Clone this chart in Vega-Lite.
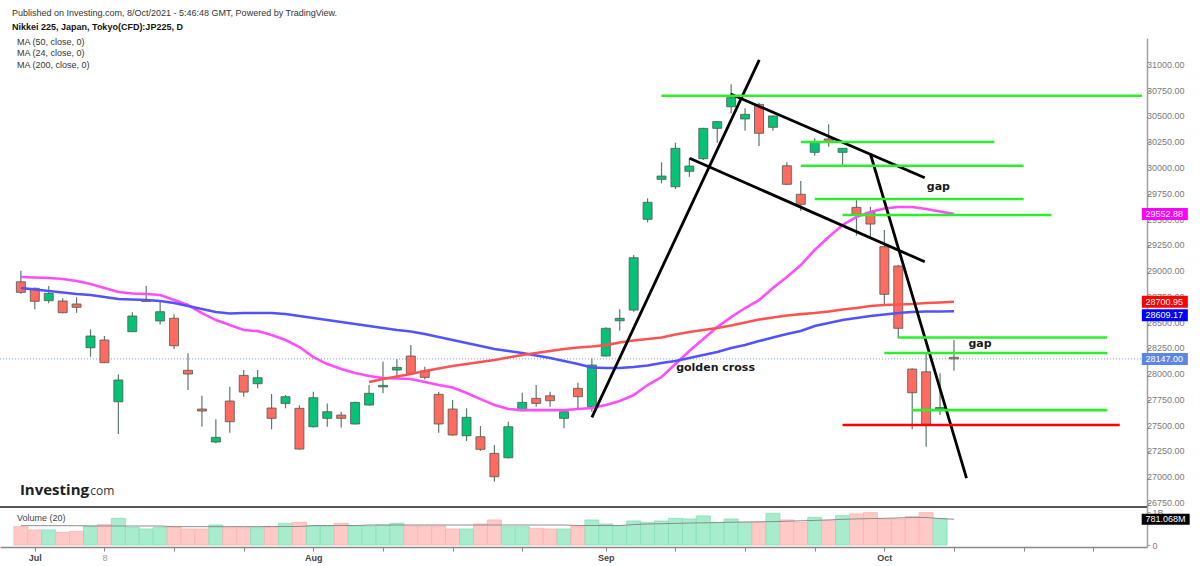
{
  "$schema": "https://vega.github.io/schema/vega-lite/v6.json",
  "width": 1147,
  "height": 509,
  "autosize": {"type": "none"},
  "padding": {"left": 0, "top": 38, "right": 53, "bottom": 19},
  "background": "#ffffff",
  "title": {
    "text": "Published on Investing.com, 8/Oct/2021 - 5:46:48 GMT, Powered by TradingView.",
    "subtitle": "Nikkei 225, Japan, Tokyo(CFD):JP225, D",
    "anchor": "start",
    "frame": "group",
    "dx": 12,
    "offset": 6,
    "font": "Liberation Sans",
    "fontSize": 9,
    "fontWeight": "normal",
    "color": "#333333",
    "subtitleFont": "Liberation Sans",
    "subtitleFontSize": 9,
    "subtitleFontWeight": "bold",
    "subtitleColor": "#111111",
    "subtitlePadding": 5
  },
  "datasets": {
    "candles": [
      {"i": 0, "o": 28896, "h": 29003, "l": 28780, "c": 28793, "vol": 555000000, "vma": 585000000, "ma24": 28942, "ma50": 28835, "ma200": null},
      {"i": 1, "o": 28832, "h": 28840, "l": 28628, "c": 28706, "vol": 455000000, "vma": 585000000, "ma24": 28937, "ma50": 28820, "ma200": null},
      {"i": 2, "o": 28712, "h": 28854, "l": 28686, "c": 28783, "vol": 455000000, "vma": 585000000, "ma24": 28932, "ma50": 28806, "ma200": null},
      {"i": 3, "o": 28709, "h": 28735, "l": 28589, "c": 28595, "vol": 384000000, "vma": 585000000, "ma24": 28922, "ma50": 28791, "ma200": null},
      {"i": 4, "o": 28680, "h": 28745, "l": 28595, "c": 28648, "vol": 414000000, "vma": 585000000, "ma24": 28903, "ma50": 28777, "ma200": null},
      {"i": 5, "o": 28255, "h": 28434, "l": 28168, "c": 28369, "vol": 576000000, "vma": 576000000, "ma24": 28874, "ma50": 28767, "ma200": null},
      {"i": 6, "o": 28330, "h": 28369, "l": 28110, "c": 28110, "vol": 616000000, "vma": 576000000, "ma24": 28835, "ma50": 28748, "ma200": null},
      {"i": 7, "o": 27731, "h": 27997, "l": 27417, "c": 27942, "vol": 808000000, "vma": 576000000, "ma24": 28796, "ma50": 28728, "ma200": null},
      {"i": 8, "o": 28411, "h": 28599, "l": 28411, "c": 28563, "vol": 535000000, "vma": 576000000, "ma24": 28782, "ma50": 28723, "ma200": null},
      {"i": 9, "o": 28705, "h": 28854, "l": 28702, "c": 28715, "vol": 485000000, "vma": 576000000, "ma24": 28777, "ma50": 28718, "ma200": null},
      {"i": 10, "o": 28515, "h": 28702, "l": 28482, "c": 28605, "vol": 535000000, "vma": 576000000, "ma24": 28767, "ma50": 28709, "ma200": null},
      {"i": 11, "o": 28541, "h": 28580, "l": 28243, "c": 28275, "vol": 535000000, "vma": 555000000, "ma24": 28718, "ma50": 28689, "ma200": null},
      {"i": 12, "o": 28036, "h": 28201, "l": 27845, "c": 28000, "vol": 485000000, "vma": 555000000, "ma24": 28670, "ma50": 28660, "ma200": null},
      {"i": 13, "o": 27660, "h": 27789, "l": 27488, "c": 27641, "vol": 485000000, "vma": 555000000, "ma24": 28592, "ma50": 28631, "ma200": null},
      {"i": 14, "o": 27340, "h": 27560, "l": 27327, "c": 27385, "vol": 606000000, "vma": 555000000, "ma24": 28524, "ma50": 28602, "ma200": null},
      {"i": 15, "o": 27738, "h": 27877, "l": 27430, "c": 27537, "vol": 525000000, "vma": 555000000, "ma24": 28476, "ma50": 28587, "ma200": null},
      {"i": 16, "o": 27987, "h": 28039, "l": 27780, "c": 27825, "vol": 525000000, "vma": 555000000, "ma24": 28427, "ma50": 28592, "ma200": null},
      {"i": 17, "o": 27906, "h": 28039, "l": 27861, "c": 27964, "vol": 525000000, "vma": 555000000, "ma24": 28417, "ma50": 28592, "ma200": null},
      {"i": 18, "o": 27670, "h": 27806, "l": 27463, "c": 27570, "vol": 535000000, "vma": 560000000, "ma24": 28379, "ma50": 28592, "ma200": null},
      {"i": 19, "o": 27715, "h": 27796, "l": 27667, "c": 27780, "vol": 657000000, "vma": 560000000, "ma24": 28330, "ma50": 28583, "ma200": null},
      {"i": 20, "o": 27667, "h": 27696, "l": 27265, "c": 27272, "vol": 687000000, "vma": 560000000, "ma24": 28262, "ma50": 28563, "ma200": null},
      {"i": 21, "o": 27488, "h": 27828, "l": 27480, "c": 27770, "vol": 576000000, "vma": 590000000, "ma24": 28165, "ma50": 28544, "ma200": null},
      {"i": 22, "o": 27570, "h": 27715, "l": 27488, "c": 27634, "vol": 576000000, "vma": 590000000, "ma24": 28097, "ma50": 28524, "ma200": null},
      {"i": 23, "o": 27602, "h": 27634, "l": 27482, "c": 27570, "vol": 657000000, "vma": 590000000, "ma24": 28049, "ma50": 28505, "ma200": null},
      {"i": 24, "o": 27515, "h": 27730, "l": 27510, "c": 27725, "vol": 576000000, "vma": 590000000, "ma24": 28010, "ma50": 28485, "ma200": null},
      {"i": 25, "o": 27699, "h": 27893, "l": 27695, "c": 27813, "vol": 576000000, "vma": 606000000, "ma24": 27981, "ma50": 28466, "ma200": 27922},
      {"i": 26, "o": 27875, "h": 28119, "l": 27813, "c": 27890, "vol": 606000000, "vma": 606000000, "ma24": 27961, "ma50": 28447, "ma200": 27951},
      {"i": 27, "o": 28039, "h": 28143, "l": 27958, "c": 28065, "vol": 657000000, "vma": 606000000, "ma24": 27956, "ma50": 28427, "ma200": 27976},
      {"i": 28, "o": 28175, "h": 28282, "l": 28000, "c": 28007, "vol": 576000000, "vma": 606000000, "ma24": 27952, "ma50": 28413, "ma200": 28000},
      {"i": 29, "o": 28029, "h": 28071, "l": 27948, "c": 27968, "vol": 576000000, "vma": 606000000, "ma24": 27922, "ma50": 28388, "ma200": 28029},
      {"i": 30, "o": 27803, "h": 27828, "l": 27430, "c": 27515, "vol": 576000000, "vma": 606000000, "ma24": 27893, "ma50": 28359, "ma200": 28053},
      {"i": 31, "o": 27660, "h": 27748, "l": 27400, "c": 27408, "vol": 485000000, "vma": 606000000, "ma24": 27869, "ma50": 28330, "ma200": 28078},
      {"i": 32, "o": 27401, "h": 27667, "l": 27350, "c": 27580, "vol": 485000000, "vma": 606000000, "ma24": 27816, "ma50": 28301, "ma200": 28097},
      {"i": 33, "o": 27391, "h": 27495, "l": 27255, "c": 27269, "vol": 636000000, "vma": 606000000, "ma24": 27757, "ma50": 28272, "ma200": 28116},
      {"i": 34, "o": 27230, "h": 27311, "l": 26954, "c": 27003, "vol": 758000000, "vma": 606000000, "ma24": 27699, "ma50": 28243, "ma200": 28136},
      {"i": 35, "o": 27187, "h": 27537, "l": 27180, "c": 27488, "vol": 555000000, "vma": 606000000, "ma24": 27660, "ma50": 28223, "ma200": 28160},
      {"i": 36, "o": 27644, "h": 27818, "l": 27640, "c": 27725, "vol": 555000000, "vma": 606000000, "ma24": 27650, "ma50": 28204, "ma200": 28184},
      {"i": 37, "o": 27764, "h": 27893, "l": 27683, "c": 27715, "vol": 505000000, "vma": 606000000, "ma24": 27650, "ma50": 28180, "ma200": 28204},
      {"i": 38, "o": 27789, "h": 27828, "l": 27683, "c": 27741, "vol": 485000000, "vma": 606000000, "ma24": 27650, "ma50": 28155, "ma200": 28223},
      {"i": 39, "o": 27570, "h": 27657, "l": 27473, "c": 27634, "vol": 485000000, "vma": 606000000, "ma24": 27650, "ma50": 28126, "ma200": 28243},
      {"i": 40, "o": 27861, "h": 27915, "l": 27650, "c": 27780, "vol": 576000000, "vma": 590000000, "ma24": 27660, "ma50": 28097, "ma200": 28257},
      {"i": 41, "o": 27683, "h": 28152, "l": 27634, "c": 28087, "vol": 758000000, "vma": 590000000, "ma24": 27670, "ma50": 28063, "ma200": 28267},
      {"i": 42, "o": 28175, "h": 28453, "l": 28170, "c": 28444, "vol": 636000000, "vma": 590000000, "ma24": 27699, "ma50": 28058, "ma200": 28281},
      {"i": 43, "o": 28517, "h": 28628, "l": 28420, "c": 28541, "vol": 586000000, "vma": 590000000, "ma24": 27738, "ma50": 28058, "ma200": 28306},
      {"i": 44, "o": 28621, "h": 29155, "l": 28605, "c": 29129, "vol": 727000000, "vma": 620000000, "ma24": 27796, "ma50": 28068, "ma200": 28325},
      {"i": 45, "o": 29502, "h": 29706, "l": 29473, "c": 29667, "vol": 687000000, "vma": 636000000, "ma24": 27893, "ma50": 28083, "ma200": 28340},
      {"i": 46, "o": 29890, "h": 30055, "l": 29851, "c": 29922, "vol": 727000000, "vma": 645000000, "ma24": 27971, "ma50": 28107, "ma200": 28354},
      {"i": 47, "o": 29818, "h": 30246, "l": 29796, "c": 30191, "vol": 808000000, "vma": 655000000, "ma24": 28097, "ma50": 28126, "ma200": 28383},
      {"i": 48, "o": 29968, "h": 30100, "l": 29916, "c": 30019, "vol": 788000000, "vma": 665000000, "ma24": 28223, "ma50": 28155, "ma200": 28408},
      {"i": 49, "o": 30090, "h": 30390, "l": 30078, "c": 30385, "vol": 879000000, "vma": 672000000, "ma24": 28340, "ma50": 28184, "ma200": 28427},
      {"i": 50, "o": 30385, "h": 30455, "l": 30246, "c": 30450, "vol": 687000000, "vma": 680000000, "ma24": 28456, "ma50": 28214, "ma200": 28447},
      {"i": 51, "o": 30595, "h": 30813, "l": 30531, "c": 30683, "vol": 788000000, "vma": 690000000, "ma24": 28553, "ma50": 28253, "ma200": 28471},
      {"i": 52, "o": 30476, "h": 30580, "l": 30362, "c": 30521, "vol": 687000000, "vma": 697000000, "ma24": 28641, "ma50": 28282, "ma200": 28500},
      {"i": 53, "o": 30618, "h": 30634, "l": 30214, "c": 30337, "vol": 687000000, "vma": 702000000, "ma24": 28718, "ma50": 28320, "ma200": 28529},
      {"i": 54, "o": 30395, "h": 30510, "l": 30362, "c": 30505, "vol": 960000000, "vma": 707000000, "ma24": 28835, "ma50": 28354, "ma200": 28548},
      {"i": 55, "o": 30022, "h": 30055, "l": 29835, "c": 29842, "vol": 758000000, "vma": 720000000, "ma24": 28942, "ma50": 28388, "ma200": 28568},
      {"i": 56, "o": 29745, "h": 29874, "l": 29583, "c": 29648, "vol": 687000000, "vma": 733000000, "ma24": 29058, "ma50": 28417, "ma200": 28582},
      {"i": 57, "o": 30152, "h": 30288, "l": 30119, "c": 30255, "vol": 838000000, "vma": 745000000, "ma24": 29204, "ma50": 28466, "ma200": 28592},
      {"i": 58, "o": 30282, "h": 30424, "l": 30207, "c": 30250, "vol": 737000000, "vma": 760000000, "ma24": 29330, "ma50": 28495, "ma200": 28607},
      {"i": 59, "o": 30152, "h": 30195, "l": 30013, "c": 30191, "vol": 889000000, "vma": 778000000, "ma24": 29447, "ma50": 28524, "ma200": 28626},
      {"i": 60, "o": 29618, "h": 29689, "l": 29343, "c": 29550, "vol": 940000000, "vma": 790000000, "ma24": 29524, "ma50": 28544, "ma200": 28641},
      {"i": 61, "o": 29570, "h": 29624, "l": 29333, "c": 29456, "vol": 980000000, "vma": 800000000, "ma24": 29573, "ma50": 28563, "ma200": 28660},
      {"i": 62, "o": 29236, "h": 29398, "l": 28680, "c": 28774, "vol": 788000000, "vma": 810000000, "ma24": 29607, "ma50": 28578, "ma200": 28670},
      {"i": 63, "o": 29049, "h": 29055, "l": 28347, "c": 28444, "vol": 788000000, "vma": 820000000, "ma24": 29621, "ma50": 28592, "ma200": 28675},
      {"i": 64, "o": 28048, "h": 28055, "l": 27463, "c": 27818, "vol": 859000000, "vma": 835000000, "ma24": 29621, "ma50": 28602, "ma200": 28680},
      {"i": 65, "o": 28022, "h": 28211, "l": 27294, "c": 27512, "vol": 980000000, "vma": 835000000, "ma24": 29602, "ma50": 28607, "ma200": 28689},
      {"i": 66, "o": 27660, "h": 28007, "l": 27602, "c": 27675, "vol": 808000000, "vma": 800000000, "ma24": 29578, "ma50": 28607, "ma200": 28694},
      {"i": 67, "o": 28162, "h": 28330, "l": 28032, "c": 28147, "vol": null, "vma": 781068000, "ma24": 29553, "ma50": 28609, "ma200": 28701}
    ],
    "trend": [
      {"x1": 41.0, "p1": 27580, "x2": 53.02, "p2": 31049},
      {"x1": 50.96, "p1": 30718, "x2": 64.9, "p2": 29906},
      {"x1": 48.02, "p1": 30094, "x2": 64.9, "p2": 29090},
      {"x1": 61.0, "p1": 30136, "x2": 67.9, "p2": 26990}
    ],
    "levels": [
      {"from": 46.0, "to": 80.5, "price": 30702, "kind": "level"},
      {"from": 56.0, "to": 69.9, "price": 30252, "kind": "level"},
      {"from": 56.0, "to": 72.0, "price": 30022, "kind": "level"},
      {"from": 57.0, "to": 72.0, "price": 29699, "kind": "level"},
      {"from": 59.0, "to": 74.0, "price": 29544, "kind": "level"},
      {"from": 63.0, "to": 78.0, "price": 28354, "kind": "level"},
      {"from": 62.0, "to": 78.0, "price": 28204, "kind": "level"},
      {"from": 64.0, "to": 78.0, "price": 27650, "kind": "level"},
      {"from": 59.0, "to": 78.9, "price": 27505, "kind": "floor"}
    ],
    "notes": [
      {"text": "gap", "i": 65.05, "price": 29818},
      {"text": "gap", "i": 68.04, "price": 28288},
      {"text": "golden cross", "i": 47.05, "price": 28056}
    ],
    "ticks": [
      {"value": 26750}, {"value": 27000}, {"value": 27250}, {"value": 27500}, {"value": 27750}, {"value": 28000},
      {"value": 28250}, {"value": 28500}, {"value": 28750}, {"value": 29000}, {"value": 29250}, {"value": 29500},
      {"value": 29750}, {"value": 30000}, {"value": 30250}, {"value": 30500}, {"value": 30750}, {"value": 31000}
    ],
    "tags": [
      {"name": "ma24", "value": 29552.88},
      {"name": "ma200", "value": 28700.95},
      {"name": "ma50", "value": 28609.17},
      {"name": "last", "value": 28147.00}
    ]
  },
  "layer": [
    {
      "layer": [
        {
          "data": {"name": "candles"},
          "transform": [{"filter": "datum.i == 67"}],
          "mark": {"type": "rule", "color": "#7d9bf0", "strokeWidth": 1, "strokeDash": [1, 2]},
          "encoding": {
            "y": {"field": "c", "type": "quantitative", "title": null, "scale": {"domain": [26321, 31262], "nice": false, "zero": false}}
          }
        },
        {
          "data": {"name": "candles"},
          "mark": {"type": "rule", "color": "#5d7a69", "strokeWidth": 1.2},
          "encoding": {
            "x": {
              "field": "i", "type": "quantitative", "title": null,
              "scale": {"domain": [-1.14, 80.5], "nice": false, "zero": false},
              "axis": {
                "values": [1, 6, 11, 16, 21, 26, 31, 36, 42, 47, 52, 57, 62, 67, 72, 77],
                "labelExpr": "datum.value == 1 ? 'Jul' : datum.value == 6 ? '8' : datum.value == 21 ? 'Aug' : datum.value == 42 ? 'Sep' : datum.value == 62 ? 'Oct' : ''",
                "grid": false,
                "domainColor": "#888888",
                "domainWidth": 1.5,
                "tickColor": "#888888",
                "tickSize": 4,
                "labelFont": "Liberation Sans",
                "labelFontSize": 9,
                "labelPadding": 2,
                "labelOverlap": false,
                "labelFlush": false,
                "labelFontWeight": {"condition": {"test": "datum.value == 6", "value": "normal"}, "value": "bold"},
                "labelColor": {"condition": {"test": "datum.value == 6", "value": "#999999"}, "value": "#444444"}
              }
            },
            "y": {
              "field": "l", "type": "quantitative", "title": null,
              "scale": {"domain": [26321, 31262], "nice": false, "zero": false},
              "axis": {
                "orient": "right",
                "values": [26750, 27000, 27250, 27500, 27750, 28000, 28250, 28500, 28750, 29000, 29250, 29500, 29750, 30000, 30250, 30500, 30750, 31000],
                "labels": false,
                "grid": false,
                "domainColor": "#a0a0a0",
                "domainWidth": 1.5,
                "tickColor": "#a0a0a0",
                "tickSize": 3
              }
            },
            "y2": {"field": "h"}
          }
        },
        {
          "data": {"name": "candles"},
          "mark": {"type": "bar", "width": 9, "stroke": "#4a5a50", "strokeWidth": 0.8},
          "encoding": {
            "x": {"field": "i", "type": "quantitative", "title": null},
            "y": {"field": "o", "type": "quantitative", "title": null},
            "y2": {"field": "c"},
            "fill": {"condition": {"test": "datum.c >= datum.o", "value": "#05c276"}, "value": "#ff6b61"}
          }
        },
        {
          "data": {"name": "candles"},
          "mark": {"type": "line", "color": "#ff4dff", "strokeWidth": 2.6},
          "encoding": {
            "x": {"field": "i", "type": "quantitative", "title": null},
            "y": {"field": "ma24", "type": "quantitative", "title": null}
          }
        },
        {
          "data": {"name": "candles"},
          "mark": {"type": "line", "color": "#5252ff", "strokeWidth": 2.6},
          "encoding": {
            "x": {"field": "i", "type": "quantitative", "title": null},
            "y": {"field": "ma50", "type": "quantitative", "title": null}
          }
        },
        {
          "data": {"name": "candles"},
          "mark": {"type": "line", "color": "#ff5252", "strokeWidth": 2.6},
          "encoding": {
            "x": {"field": "i", "type": "quantitative", "title": null},
            "y": {"field": "ma200", "type": "quantitative", "title": null}
          }
        },
        {
          "data": {"name": "trend"},
          "mark": {"type": "rule", "color": "#000000", "strokeWidth": 2.8},
          "encoding": {
            "x": {"field": "x1", "type": "quantitative", "title": null},
            "y": {"field": "p1", "type": "quantitative", "title": null},
            "x2": {"field": "x2"},
            "y2": {"field": "p2"}
          }
        },
        {
          "data": {"name": "levels"},
          "mark": {"type": "rule", "strokeWidth": 2.6},
          "encoding": {
            "x": {"field": "from", "type": "quantitative", "title": null},
            "x2": {"field": "to"},
            "y": {"field": "price", "type": "quantitative", "title": null},
            "color": {"condition": {"test": "datum.kind == 'floor'", "value": "#ff0000"}, "value": "#2bef2b"}
          }
        },
        {
          "data": {"name": "notes"},
          "mark": {"type": "text", "align": "left", "baseline": "middle", "font": "DejaVu Sans", "fontWeight": "bold", "fontSize": 11, "color": "#1a1a1a"},
          "encoding": {
            "x": {"field": "i", "type": "quantitative", "title": null},
            "y": {"field": "price", "type": "quantitative", "title": null},
            "text": {"field": "text"}
          }
        },
        {
          "data": {"values": [{}]},
          "mark": {"type": "rule", "color": "#555555", "strokeWidth": 2},
          "encoding": {"y": {"datum": 26709, "type": "quantitative", "title": null}}
        },
        {
          "data": {"name": "ticks"},
          "mark": {"type": "text", "align": "left", "baseline": "middle", "font": "Liberation Sans", "fontSize": 9, "color": "#7a7a7a"},
          "encoding": {
            "x": {"datum": 80.86, "type": "quantitative", "title": null},
            "y": {"field": "value", "type": "quantitative", "title": null},
            "text": {"field": "value", "format": ".2f"}
          }
        },
        {
          "data": {"name": "tags"},
          "transform": [{"filter": "datum.name != 'ma50'"}],
          "mark": {"type": "tick", "orient": "horizontal", "size": 46, "thickness": 12, "opacity": 1},
          "encoding": {
            "x": {"datum": 82.14, "type": "quantitative", "title": null},
            "y": {"field": "value", "type": "quantitative", "title": null},
            "color": {"condition": [{"test": "datum.name == 'ma24'", "value": "#ff00ff"}, {"test": "datum.name == 'ma200'", "value": "#ff0000"}], "value": "#5b86e5"}
          }
        },
        {
          "data": {"name": "tags"},
          "transform": [{"filter": "datum.name == 'ma50'"}],
          "mark": {"type": "tick", "orient": "horizontal", "size": 46, "thickness": 12, "opacity": 1, "color": "#0000ff", "yOffset": 4},
          "encoding": {
            "x": {"datum": 82.14, "type": "quantitative", "title": null},
            "y": {"field": "value", "type": "quantitative", "title": null}
          }
        },
        {
          "data": {"name": "tags"},
          "transform": [{"filter": "datum.name != 'ma50'"}],
          "mark": {"type": "text", "align": "left", "baseline": "middle", "font": "Liberation Sans", "fontSize": 9, "color": "#ffffff"},
          "encoding": {
            "x": {"datum": 80.75, "type": "quantitative", "title": null},
            "y": {"field": "value", "type": "quantitative", "title": null},
            "text": {"field": "value", "format": ".2f"}
          }
        },
        {
          "data": {"name": "tags"},
          "transform": [{"filter": "datum.name == 'ma50'"}],
          "mark": {"type": "text", "align": "left", "baseline": "middle", "font": "Liberation Sans", "fontSize": 9, "color": "#ffffff", "yOffset": 4},
          "encoding": {
            "x": {"datum": 80.75, "type": "quantitative", "title": null},
            "y": {"field": "value", "type": "quantitative", "title": null},
            "text": {"field": "value", "format": ".2f"}
          }
        },
        {
          "data": {"values": [{}]},
          "mark": {"type": "text", "align": "left", "baseline": "middle", "font": "Liberation Sans", "fontSize": 9, "color": "#333333"},
          "encoding": {"x": {"datum": -0.28, "type": "quantitative", "title": null}, "y": {"datum": 31223, "type": "quantitative", "title": null}, "text": {"value": "MA (50, close, 0)"}}
        },
        {
          "data": {"values": [{}]},
          "mark": {"type": "text", "align": "left", "baseline": "middle", "font": "Liberation Sans", "fontSize": 9, "color": "#333333"},
          "encoding": {"x": {"datum": -0.28, "type": "quantitative", "title": null}, "y": {"datum": 31112, "type": "quantitative", "title": null}, "text": {"value": "MA (24, close, 0)"}}
        },
        {
          "data": {"values": [{}]},
          "mark": {"type": "text", "align": "left", "baseline": "middle", "font": "Liberation Sans", "fontSize": 9, "color": "#333333"},
          "encoding": {"x": {"datum": -0.28, "type": "quantitative", "title": null}, "y": {"datum": 31000, "type": "quantitative", "title": null}, "text": {"value": "MA (200, close, 0)"}}
        },
        {
          "data": {"values": [{}]},
          "mark": {"type": "text", "align": "left", "baseline": "alphabetic", "font": "Open Sans", "fontWeight": "bold", "fontSize": 15, "color": "#1e1e1e"},
          "encoding": {"x": {"datum": -0.07, "type": "quantitative", "title": null}, "y": {"datum": 26826, "type": "quantitative", "title": null}, "text": {"value": "Investing"}}
        },
        {
          "data": {"values": [{}]},
          "mark": {"type": "text", "align": "left", "baseline": "alphabetic", "font": "Open Sans", "fontSize": 12, "color": "#333333"},
          "encoding": {"x": {"datum": 4.75, "type": "quantitative", "title": null}, "y": {"datum": 26826, "type": "quantitative", "title": null}, "text": {"value": ".com"}}
        }
      ]
    },
    {
      "layer": [
        {
          "data": {"name": "candles"},
          "mark": {"type": "bar", "width": 14, "strokeWidth": 0.8},
          "encoding": {
            "x": {"field": "i", "type": "quantitative", "title": null},
            "y": {
              "field": "vol", "type": "quantitative", "title": null,
              "scale": {"domain": [-60600000, 15364000000], "nice": false, "zero": false},
              "axis": {
                "orient": "right",
                "values": [0, 1000000000],
                "labelExpr": "datum.value == 0 ? '0' : '1B'",
                "domain": false,
                "grid": false,
                "tickColor": "#a0a0a0",
                "tickSize": 3,
                "labelColor": "#7a7a7a",
                "labelFont": "Liberation Sans",
                "labelFontSize": 9,
                "labelPadding": 2,
                "labelOverlap": false,
                "labelFlush": false
              }
            },
            "y2": {"datum": 0},
            "fill": {"condition": {"test": "datum.c >= datum.o", "value": "#a7eccd"}, "value": "#ffc9c7"},
            "stroke": {"condition": {"test": "datum.c >= datum.o", "value": "#86dfb7"}, "value": "#ffb0ad"}
          }
        },
        {
          "data": {"name": "candles"},
          "mark": {"type": "line", "color": "#8c8c8c", "strokeWidth": 1},
          "encoding": {
            "x": {"field": "i", "type": "quantitative", "title": null},
            "y": {"field": "vma", "type": "quantitative", "title": null}
          }
        },
        {
          "data": {"values": [{}]},
          "mark": {"type": "text", "align": "left", "baseline": "middle", "font": "Liberation Sans", "fontSize": 9, "color": "#444444"},
          "encoding": {"x": {"datum": -0.28, "type": "quantitative", "title": null}, "y": {"datum": 809000000, "type": "quantitative", "title": null}, "text": {"value": "Volume (20)"}}
        },
        {
          "data": {"name": "candles"},
          "transform": [{"filter": "datum.i == 67"}],
          "mark": {"type": "tick", "orient": "horizontal", "size": 48, "thickness": 11, "opacity": 1, "color": "#000000"},
          "encoding": {
            "x": {"datum": 82.2, "type": "quantitative", "title": null},
            "y": {"field": "vma", "type": "quantitative", "title": null}
          }
        },
        {
          "data": {"name": "candles"},
          "transform": [{"filter": "datum.i == 67"}],
          "mark": {"type": "text", "align": "left", "baseline": "middle", "font": "Liberation Sans", "fontSize": 9, "color": "#ffffff"},
          "encoding": {
            "x": {"datum": 80.75, "type": "quantitative", "title": null},
            "y": {"field": "vma", "type": "quantitative", "title": null},
            "text": {"field": "vma", "format": ".6s"}
          }
        }
      ]
    }
  ],
  "resolve": {"scale": {"y": "independent"}, "axis": {"y": "independent"}},
  "config": {
    "view": {"stroke": null},
    "font": "Liberation Sans",
    "axis": {"labelOverlap": false, "labelFlush": false}
  }
}
